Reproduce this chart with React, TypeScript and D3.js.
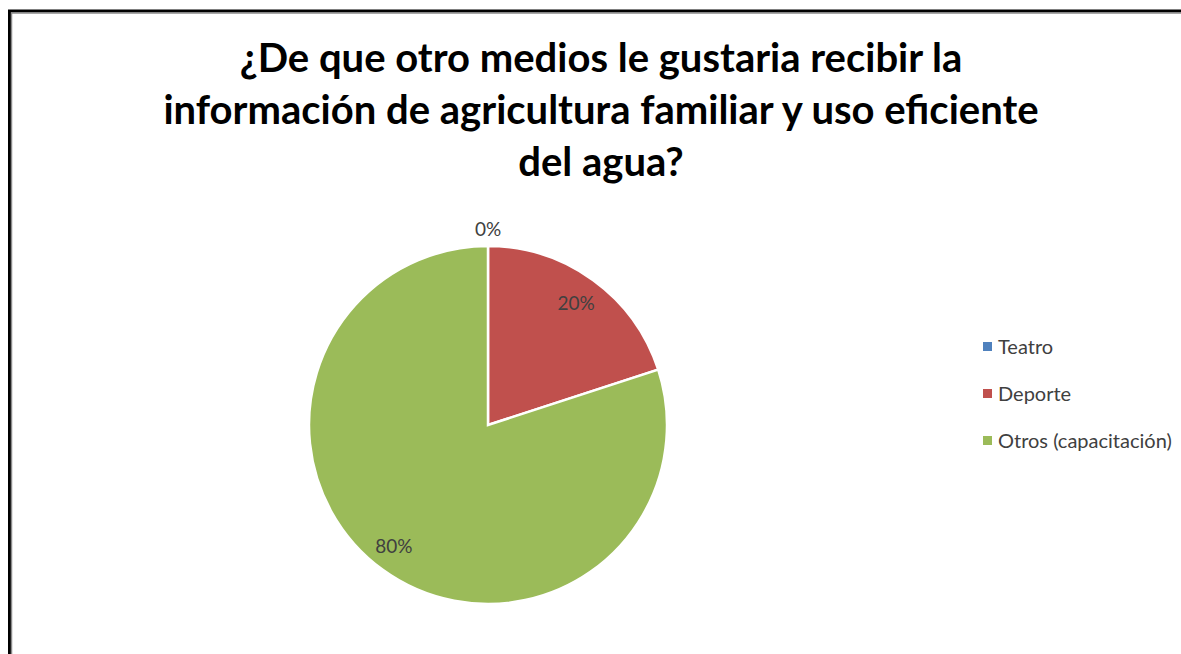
import { useMemo } from "react";
import * as d3 from "d3";

const categories = ["Teatro", "Deporte", "Otros (capacitación)"];
const values = [0, 20, 80];
const colors = ["#4f81bd", "#c0504d", "#9bbb59"];
const titleLines = [
  "¿De que otro medios le gustaria recibir la",
  "información de agricultura familiar y uso eficiente",
  "del agua?",
];

const W = 1181;
const H = 654;
const CX = 488;
const CY = 425;
const R = 179;
const FONT = "Lato, 'Open Sans', sans-serif";

export default function App() {
  const slices = useMemo(() => {
    const pie = d3.pie<number>().sort(null).value((d) => d);
    return pie(values);
  }, []);

  const arc = d3.arc<d3.PieArcDatum<number>>().innerRadius(0).outerRadius(R);
  const labelArc = d3.arc<d3.PieArcDatum<number>>().innerRadius(150).outerRadius(150);
  const total = d3.sum(values);

  return (
    <svg
      width={W}
      height={H}
      style={{ position: "absolute", left: 0, top: 0, background: "#fff" }}
    >
      <rect x={9.5} y={11} width={W + 20} height={H + 20} fill="#fff" stroke="#000" strokeWidth={3} />
      <rect x={11.5} y={13} width={W + 20} height={H + 20} fill="none" stroke="#8a8a8a" strokeWidth={1.5} />

      <g fontFamily={FONT} fontWeight="bold" fontSize={40} fill="#000" textAnchor="middle">
        {titleLines.map((t, i) => (
          <text key={i} x={601} y={72 + i * 52}>
            {t}
          </text>
        ))}
      </g>

      <g transform={`translate(${CX},${CY})`}>
        {slices.map((s, i) =>
          s.value > 0 ? (
            <path key={i} d={arc(s) || undefined} fill={colors[i]} stroke="#fff" strokeWidth={2.5} />
          ) : null
        )}
        {slices.map((s, i) => {
          const pct = `${Math.round((s.value / total) * 100)}%`;
          let [x, y] = labelArc.centroid(s);
          if (s.value === 0) {
            const a = s.startAngle;
            x = Math.sin(a) * (R + 17);
            y = -Math.cos(a) * (R + 17);
          }
          if (x < 0 && s.value > 0) x -= 6;
          return (
            <text
              key={i}
              x={x}
              y={y}
              dy="0.35em"
              textAnchor="middle"
              fontFamily={FONT}
              fontSize={19}
              fill="#404040"
            >
              {pct}
            </text>
          );
        })}
      </g>

      <g fontFamily={FONT} fontSize={20} fill="#404040">
        {categories.map((c, i) => (
          <g key={c} transform={`translate(983,${347 + i * 47})`}>
            <rect x={0} y={-5} width={9} height={9} fill={colors[i]} />
            <text x={15} y={0} dy="0.35em">
              {c}
            </text>
          </g>
        ))}
      </g>
    </svg>
  );
}
